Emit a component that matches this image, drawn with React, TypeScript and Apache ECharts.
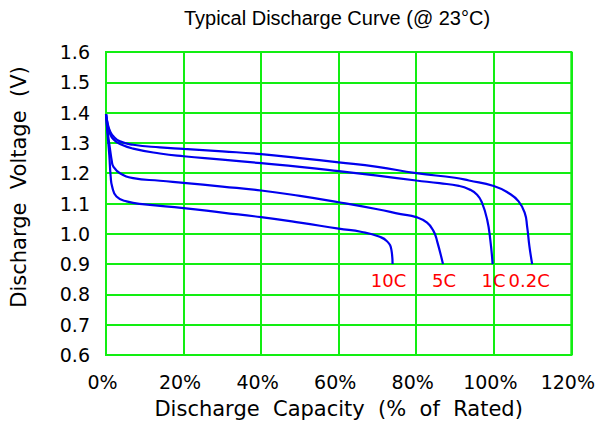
import React, { useEffect, useRef } from 'react';
import * as echarts from 'echarts';

const chartTitle = 'Typical Discharge Curve (@ 23°C)';
const xAxisTitle = 'Discharge  Capacity  (%  of  Rated)';
const yAxisTitle = 'Discharge  Voltage  (V)';

const xTickLabels = ['0%', '20%', '40%', '60%', '80%', '100%', '120%'];
const yTickLabels = ['0.6', '0.7', '0.8', '0.9', '1.0', '1.1', '1.2', '1.3', '1.4', '1.5', '1.6'];

const seriesNames = ['0.2C', '1C', '5C', '10C'];

const cap_0_2C = [0, 0.5, 1, 1.9, 3.6, 7, 13.9, 20, 30, 40, 50, 60, 70, 80, 90, 93.6, 100, 103.9, 106.4, 108, 108.6, 109.2, 109.9];
const volt_0_2C = [1.395, 1.36, 1.34, 1.322, 1.305, 1.294, 1.285, 1.28, 1.272, 1.263, 1.25, 1.236, 1.221, 1.2, 1.185, 1.176, 1.158, 1.134, 1.107, 1.068, 1.024, 0.958, 0.9];

const cap_1C = [0, 0.5, 1, 1.9, 3.6, 7, 13.9, 20, 30, 40, 50, 60, 70, 80, 86, 91, 93.6, 95.7, 97, 98.3, 99.1, 99.7];
const volt_1C = [1.395, 1.355, 1.332, 1.312, 1.296, 1.281, 1.265, 1.256, 1.245, 1.233, 1.221, 1.207, 1.192, 1.176, 1.167, 1.158, 1.147, 1.129, 1.101, 1.046, 0.98, 0.9];

const cap_5C = [0, 0.5, 1, 1.5, 1.9, 3.6, 7, 13.9, 20, 30, 40, 50, 60, 70, 76, 80, 82.8, 84.5, 85.4, 86.9];
const volt_5C = [1.395, 1.33, 1.283, 1.24, 1.222, 1.2, 1.184, 1.175, 1.168, 1.156, 1.143, 1.125, 1.104, 1.081, 1.065, 1.055, 1.037, 1.008, 0.975, 0.9];

const cap_10C = [0, 0.4, 0.85, 1.2, 1.6, 2.7, 5.3, 10, 20, 30, 40, 50, 60, 66, 70.4, 72.5, 73.6, 73.9];
const volt_10C = [1.395, 1.33, 1.26, 1.19, 1.155, 1.123, 1.107, 1.097, 1.085, 1.07, 1.055, 1.037, 1.017, 1.006, 0.991, 0.975, 0.947, 0.9];

const capacities = [cap_0_2C, cap_1C, cap_5C, cap_10C];
const voltages = [volt_0_2C, volt_1C, volt_5C, volt_10C];

const GREEN = '#12ee12';
const BLUE = '#0000ee';
const RED = '#ff0000';
const FONT = '"DejaVu Sans", Verdana, sans-serif';

export default function App() {
  const ref = useRef<HTMLDivElement>(null);

  useEffect(() => {
    if (!ref.current) return;
    const chart = echarts.init(ref.current, undefined, { renderer: 'svg' });
    const labelShift = [-3, 1, 1, -4];

    const series = seriesNames.map((name, s) => {
      const xs = capacities[s];
      const ys = voltages[s];
      const last = xs.length - 1;
      return {
        name,
        type: 'line',
        smooth: 0.5,
        showSymbol: true,
        symbol: 'circle',
        symbolSize: 0,
        lineStyle: { color: BLUE, width: 2.2 },
        itemStyle: { color: BLUE },
        emphasis: { disabled: true },
        data: xs.map((x, i) =>
          i === last
            ? {
                value: [x, ys[i]],
                label: {
                  show: true,
                  position: 'bottom',
                  distance: 7,
                  offset: [labelShift[s], 0],
                  formatter: name,
                  color: RED,
                  fontFamily: FONT,
                  fontSize: 18,
                },
              }
            : [x, ys[i]]
        ),
      };
    });

    chart.setOption({
      animation: false,
      backgroundColor: '#ffffff',
      grid: {
        left: 106,
        right: 25,
        top: 52,
        bottom: 70,
        show: true,
        borderColor: GREEN,
        borderWidth: 2,
      },
      xAxis: {
        type: 'value',
        min: 0,
        max: 120,
        interval: 20,
        name: xAxisTitle,
        nameLocation: 'middle',
        nameGap: 43,
        nameTextStyle: { fontFamily: FONT, fontSize: 21, color: '#000' },
        axisLine: { show: true, lineStyle: { color: GREEN, width: 2 } },
        axisTick: { show: false },
        splitLine: { show: true, lineStyle: { color: GREEN, width: 2 } },
        axisLabel: {
          margin: 17,
          fontFamily: FONT,
          fontSize: 19,
          color: '#000',
          padding: [0, 7, 0, 0],
          formatter: (v: number) => xTickLabels[Math.round(v / 20)] ?? '',
        },
      },
      yAxis: {
        type: 'value',
        min: 0.6,
        max: 1.6,
        interval: 0.1,
        axisLine: { show: true, lineStyle: { color: GREEN, width: 2 } },
        axisTick: { show: false },
        splitLine: { show: true, lineStyle: { color: GREEN, width: 2 } },
        axisLabel: {
          margin: 16,
          fontFamily: FONT,
          fontSize: 19,
          color: '#000',
          formatter: (v: number) => yTickLabels[Math.round((v - 0.6) * 10)] ?? '',
        },
      },
      graphic: [
        {
          type: 'text',
          x: 337,
          y: 18,
          style: {
            text: chartTitle,
            font: '20px "Liberation Sans", Arial, sans-serif',
            fill: '#000',
            textAlign: 'center',
            textVerticalAlign: 'middle',
          },
        },
        {
          type: 'text',
          x: 19,
          y: 187,
          rotation: Math.PI / 2,
          style: {
            text: yAxisTitle,
            font: '21px "DejaVu Sans", Verdana, sans-serif',
            fill: '#000',
            textAlign: 'center',
            textVerticalAlign: 'middle',
          },
        },
      ],
      series,
    });

    return () => chart.dispose();
  }, []);

  return (
    <div
      ref={ref}
      style={{ position: 'absolute', left: 0, top: 0, width: 598, height: 425 }}
    />
  );
}
